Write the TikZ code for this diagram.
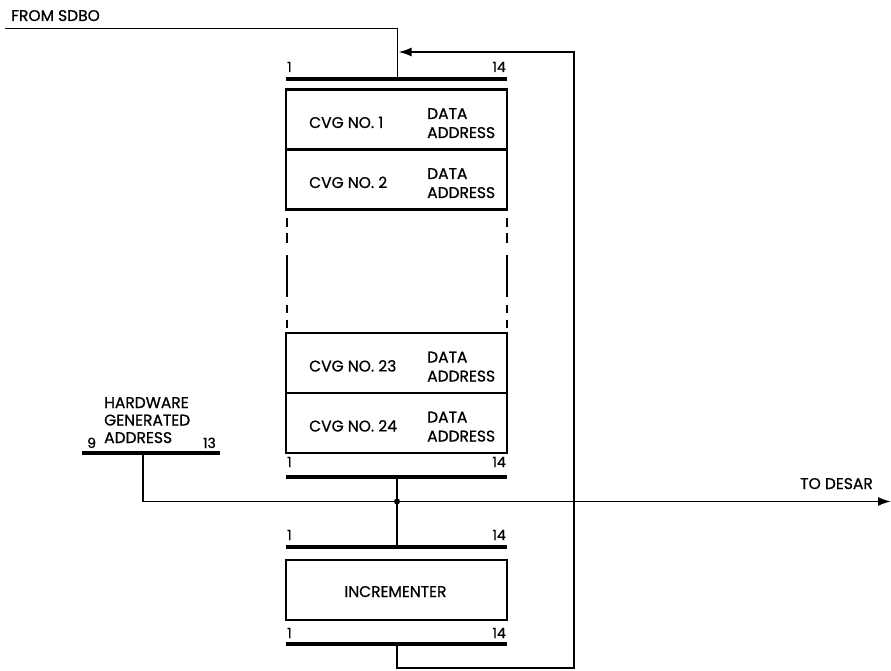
\documentclass[tikz,border=0pt]{standalone}
\usepackage{fontspec}
\setmainfont{Poppins}[FakeBold=0.8]
\usetikzlibrary{arrows.meta}
\begin{document}
\begin{tikzpicture}[x=1pt,y=-1pt,
  bar/.style={line width=3.5pt},
  cell/.style={draw,line width=2.6pt,minimum width=221pt,minimum height=60pt,inner sep=0pt},
  wire/.style={line width=1.8pt},
  dashside/.style={line width=2.6pt},
  lbl/.style={font=\fontsize{15.5}{17}\selectfont,inner sep=0pt},
  num/.style={font=\fontsize{14}{16}\selectfont,inner sep=0pt},
  arr/.style={-{Latex[length=13pt,width=9pt]}}
]
\useasboundingbox (0,0) rectangle (891,671);

% register cells
\node[cell] (c1) at (396.5,119.5) {};
\node[cell] (c2) at (396.5,179.5) {};
\node[cell] (c23) at (396.5,363) {};
\node[cell] (c24) at (396.5,423) {};
\node[cell] (inc) at (396.5,590) {};

\foreach \n/\y/\t in {c1/119.5/1, c2/179.5/2, c23/363/23, c24/423/24}{
  \node[lbl,anchor=base west] (cvg\n) at (309,\y+8.5) {CVG NO. \t};
  \node[lbl,anchor=base west] (da\n) at (427,\y-0.5) {DATA};
  \node[lbl,anchor=base west] (ad\n) at (427,\y+18.5) {ADDRESS};
}
\node[lbl,anchor=base] (inctext) at (395.5,597) {INCREMENTER};

% dashed sides
\foreach \x in {287,507}{
  \foreach \a/\b in {218/227, 233/243, 255/297, 305/313, 320/328}{
    \draw[dashside] (\x,\a) -- (\x,\b);
  }
}

% bars
\coordinate (tbL) at (286,79); \coordinate (tbR) at (507,79);
\coordinate (bbL) at (286,477); \coordinate (bbR) at (507,477);
\coordinate (itL) at (286,547); \coordinate (itR) at (507,547);
\coordinate (ibL) at (286,644); \coordinate (ibR) at (507,644);
\coordinate (hbL) at (82,453); \coordinate (hbR) at (220,453);
\draw[bar] (tbL) -- (tbR);
\draw[bar] (bbL) -- (bbR);
\draw[bar] (itL) -- (itR);
\draw[bar] (ibL) -- (ibR);
\draw[bar] (hbL) -- (hbR);

\node[num,anchor=base west] (t1) at (287,72) {1};
\node[num,anchor=base east] (t14) at (506,72) {14};
\node[num,anchor=base west] (b1) at (287,467) {1};
\node[num,anchor=base east] (b14) at (506,467) {14};
\node[num,anchor=base west] (i1) at (287,540) {1};
\node[num,anchor=base east] (i14) at (506,540) {14};
\node[num,anchor=base west] (j1) at (287,638) {1};
\node[num,anchor=base east] (j14) at (506,638) {14};
\node[num,anchor=base west] (h9) at (87,448) {9};
\node[num,anchor=base east] (h13) at (216,448) {13};

% labels
\node[lbl,anchor=base west] (fromsdbo) at (11,21) {FROM SDBO};
\node[lbl,anchor=base west] (hw1) at (104,408) {HARDWARE};
\node[lbl,anchor=base west] (hw2) at (104,425.5) {GENERATED};
\node[lbl,anchor=base west] (hw3) at (104,443) {ADDRESS};
\node[lbl,anchor=base east] (todesar) at (873,489) {TO DESAR};

% connectors
\coordinate (sdbo) at (5,28.5);
\coordinate (topin) at (397.5,79);
\draw[wire] (sdbo) -| (topin);

\coordinate (regout) at (397,477);
\coordinate (junc) at (397,501.5);
\coordinate (incin) at (397,547);
\coordinate (incout) at (397,644);
\coordinate (loopA) at (397,668);
\coordinate (loopB) at (574,668);
\coordinate (loopC) at (574,52);
\coordinate (fbtip) at (398.5,52);
\coordinate (hgaout) at (143,453);
\coordinate (desar) at (891,501.5);

\draw[wire] (regout) -- (junc) -- (incin);
\draw[wire] (hgaout) |- (junc);
\draw[wire,arr] (junc) -- (desar);
\draw[wire,arr] (incout) -- (loopA) -- (loopB) -- (loopC) -- (fbtip);
\fill (junc) circle (3pt);
\end{tikzpicture}
\end{document}
